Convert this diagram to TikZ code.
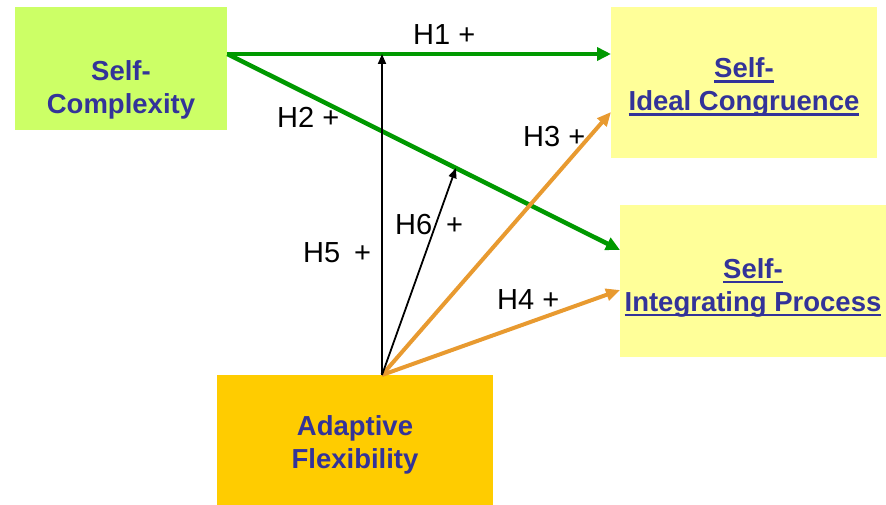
\documentclass[tikz,border=0pt]{standalone}
\usepackage{fontspec}
\setmainfont{Liberation Sans}
\usetikzlibrary{arrows.meta,calc}
\definecolor{scgreen}{HTML}{CCFF66}
\definecolor{outyellow}{HTML}{FFFF99}
\definecolor{afgold}{HTML}{FFCC00}
\definecolor{txtblue}{HTML}{333399}
\definecolor{lgreen}{HTML}{009900}
\definecolor{lorange}{HTML}{E89A30}
\newcommand\myul[1]{\sbox0{#1}\rlap{\rule[-5pt]{\wd0}{2.2pt}}\usebox0}
\begin{document}
\begin{tikzpicture}[x=1pt,y=-1pt,
  boxnode/.style={draw=none,inner sep=0,anchor=north west},
  boxtext/.style={inner sep=0,align=center,text=txtblue,font=\bfseries\fontsize{27.5}{33}\selectfont},
  hyplabel/.style={inner sep=0,anchor=base west,font=\fontsize{29}{33}\selectfont},
  greenarrow/.style={draw=lgreen,line width=4.5pt,-{Triangle[length=14pt,width=13pt]}},
  orangearrow/.style={draw=lorange,line width=4pt,-{Triangle[length=14pt,width=12pt]}},
  blackarrow/.style={draw=black,line width=1.8pt,-{Triangle[length=10pt,width=8pt]}}]
\useasboundingbox (0,0) rectangle (886,505);
% boxes
\node[boxnode,fill=scgreen,minimum width=212,minimum height=123] (sc) at (15,7) {};
\node[boxnode,fill=outyellow,minimum width=266,minimum height=151] (sic) at (611,7) {};
\node[boxnode,fill=outyellow,minimum width=266,minimum height=152] (sip) at (620,205) {};
\node[boxnode,fill=afgold,minimum width=276,minimum height=130] (af) at (217,375) {};
% box texts
\node[boxtext] (sctext) at (121,89.4) {Self-\\Complexity};
\node[boxtext] (sictext) at (744,87) {\myul{Self-}\\\myul{Ideal Congruence}};
\node[boxtext] (siptext) at (753,287.7) {\myul{Self-}\\\myul{Integrating Process}};
\node[boxtext] (aftext) at (355,444.4) {Adaptive\\Flexibility};
% connection points
\coordinate (scout) at ($(sc.north east)+(0,47)$);
\coordinate (h1end) at ($(sic.north west)+(0,47)$);
\coordinate (h3end) at ($(sic.north west)+(0,105)$);
\coordinate (h2end) at ($(sip.north west)+(0,45)$);
\coordinate (h4end) at ($(sip.north west)+(0,85)$);
\coordinate (aftop) at ($(af.north west)+(165,0)$);
\coordinate (h5end) at (aftop |- scout);
\coordinate (h6end) at ($(scout)!0.582!(h2end)$);
% connectors
\draw[greenarrow] (scout) -- (h1end);
\draw[greenarrow] (scout) -- (h2end);
\draw[orangearrow] (aftop) -- (h3end);
\draw[orangearrow] (aftop) -- (h4end);
\draw[blackarrow] (aftop) -- (h5end);
\draw[blackarrow] (aftop) -- (h6end);
% labels
\node[hyplabel] (l1) at (413,45) {H1 +};
\node[hyplabel] (l2) at (277,128) {H2 +};
\node[hyplabel] (l3) at (523,147) {H3 +};
\node[hyplabel] (l4) at (497,309) {H4 +};
\node[hyplabel] (l5) at (303,262) {H5\hspace{14pt}+};
\node[hyplabel] (l6) at (395,234) {H6\hspace{14pt}+};
\end{tikzpicture}
\end{document}
